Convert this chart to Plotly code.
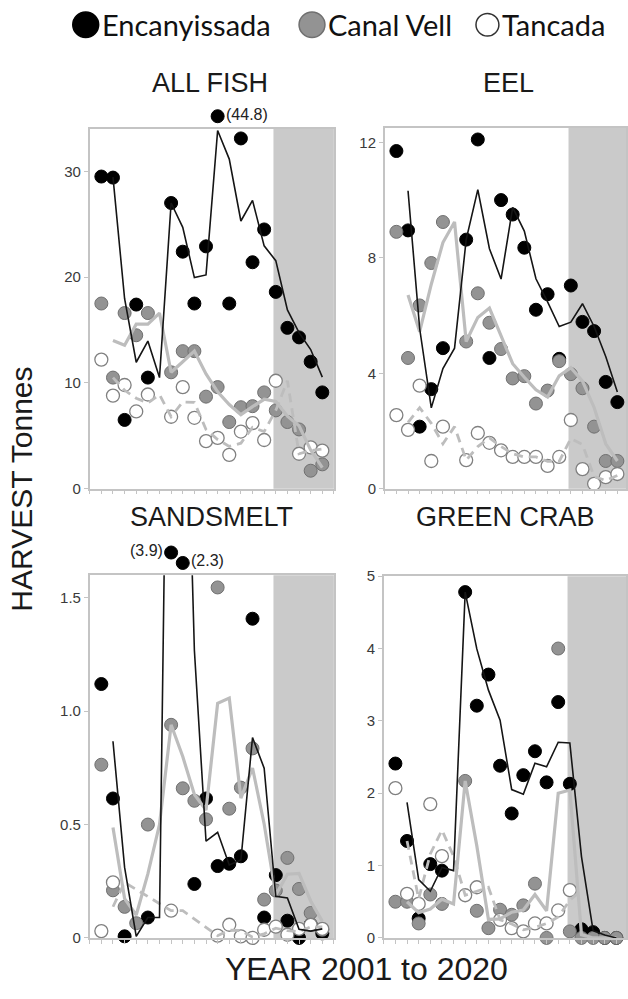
import numpy as np
import pandas as pd
import plotly.graph_objects as go

W, H = 628, 999

YEARS = list(range(2001, 2021))
SITES = ["Encanyissada", "Canal Vell", "Tancada"]
PANEL_TITLES = ["ALL FISH", "EEL", "SANDSMELT", "GREEN CRAB"]

# ---- harvest (tonnes) per year 2001..2020, None = no data ----
ALLFISH_ENC = [29.5, 29.4, 6.5, 17.4, 10.5, None, 27.0, 22.4, 17.5, 22.9,
               44.8, 17.5, 33.1, 21.4, 24.5, 18.6, 15.2, 14.3, 12.0, 9.1]
ALLFISH_CV = [17.5, 10.5, 16.6, 14.5, 16.6, None, 11.0, 13.0, 13.0, 8.7,
              9.6, 6.3, 7.7, 7.8, 9.1, 7.4, 6.3, 5.6, 1.7, 2.3]
ALLFISH_TAN = [12.2, 8.8, 9.8, 7.3, 8.9, None, 6.8, 9.6, 6.7, 4.5,
               4.8, 3.2, 5.4, 6.2, 4.6, 10.2, None, 3.3, 3.9, 3.6]

EEL_ENC = [11.7, 8.95, 2.15, 3.45, 4.87, None, 8.63, 12.1, 4.53, 10.0,
           9.5, 8.35, 6.2, 6.74, 4.5, 7.04, 5.78, 5.46, 3.7, 3.0]
EEL_CV = [8.9, 4.53, 6.35, 7.82, 9.24, None, 5.1, 6.77, 5.75, 4.84,
          3.82, 3.9, 2.95, 3.4, 4.42, 3.97, 3.48, 2.15, 0.96, 0.96]
EEL_TAN = [2.55, 2.04, 3.57, 0.96, 2.15, None, 0.99, 1.93, 1.59, 1.33,
           1.1, 1.1, 1.1, 0.79, 1.1, 2.38, 0.68, 0.17, 0.4, 0.51]

SAND_ENC = [1.12, 0.615, 0.007, None, 0.09, None, 3.9, 2.3, 0.238, 0.615,
            0.317, 0.327, 0.36, 1.408, 0.09, 0.277, 0.076, 0.0, 0.06, 0.02]
SAND_CV = [0.764, 0.21, 0.137, 0.065, 0.5, None, 0.94, 0.66, 0.605, 0.523,
           1.546, 0.57, 0.663, 0.836, 0.169, 0.209, 0.353, 0.216, 0.11, 0.036]
SAND_TAN = [0.03, 0.245, None, None, None, None, 0.12, None, None, None,
            0.01, 0.058, 0.007, 0.0, 0.036, 0.05, 0.014, 0.04, 0.058, 0.04]

CRAB_ENC = [2.41, 1.34, 0.27, 1.02, 0.93, None, 4.78, 3.21, 3.64, 2.38,
            1.72, 2.25, 2.58, 2.15, 3.26, 2.13, 0.12, 0.08, 0.0, 0.0]
CRAB_CV = [0.5, 0.5, 0.2, 0.6, 0.47, None, 2.17, 0.375, 0.135, 0.39,
           0.32, 0.45, 0.75, 0.0, 4.0, 0.09, 0.0, 0.0, 0.0, 0.0]
CRAB_TAN = [2.07, 0.61, 0.47, 1.85, 1.13, None, 0.59, 0.7, None, 0.25,
            0.135, 0.09, 0.2, 0.2, 0.38, 0.66, None, None, None, None]

# y-axis ticks per panel
ALLFISH_TICKS = [0, 10, 20, 30]
EEL_TICKS = [0, 4, 8, 12]
SAND_TICKS = [0, 0.5, 1.0, 1.5]
SAND_TICKTEXT = ["0", "0.5", "1.0", "1.5"]
CRAB_TICKS = [0, 1, 2, 3, 4, 5]

X_TITLE = "YEAR 2001 to 2020"
Y_TITLE = "HARVEST Tonnes"

# ---- styling / layout (not data) ----
SHADE_START = 2015.8
PX_PER_YEAR = 245 / 21.0
panels = [
    dict(data=(ALLFISH_ENC, ALLFISH_CV, ALLFISH_TAN), ymax=34, ticks=ALLFISH_TICKS, ticktext=None,
         box=(90, 335, 122, 488), title_xy=(211, 75)),
    dict(data=(EEL_ENC, EEL_CV, EEL_TAN), ymax=12.5, ticks=EEL_TICKS, ticktext=None,
         box=(386, 628, 121, 488), title_xy=(510, 75)),
    dict(data=(SAND_ENC, SAND_CV, SAND_TAN), ymax=1.6, ticks=SAND_TICKS, ticktext=SAND_TICKTEXT,
         box=(90, 335, 576, 945), title_xy=(212, 517)),
    dict(data=(CRAB_ENC, CRAB_CV, CRAB_TAN), ymax=5, ticks=CRAB_TICKS, ticktext=None,
         box=(385, 628, 577, 945), title_xy=(507, 517)),
]
# display height (axis units) for off-scale points, and label side
OFFSCALE = {0: {2011: (35.2, "right")}, 2: {2007: (1.70, "left"), 2008: (1.654, "right")}}
EXTRA_PX = 40  # extra headroom for the invisible overlay axis that holds off-scale points

BLACK = "#000000"
GRAY_FILL = "#939393"
GRAY_EDGE = "#707070"
WHITE_EDGE = "#808080"
TREND_GRAY = "#bdbdbd"
SHADE = "#cacaca"
AXIS = "#c4c4c4"
MS = 13
FONT = "Liberation Sans, Arial"


def trend(vals):
    s = pd.Series([np.nan if v is None else v for v in vals], dtype=float)
    m = s.rolling(2, min_periods=1).mean()
    m.iloc[0] = np.nan
    return [None if np.isnan(v) else v for v in m]


def px(x, y):
    return x / W, 1 - y / H


fig = go.Figure()
layout = {}
shapes = []
annotations = []
extra_axis = 5

for i, p in enumerate(panels):
    n = "" if i == 0 else str(i + 1)
    xa, ya = "x" + n, "y" + n
    x0, x1, y0, y1 = p["box"]
    xmax = 2000 + (x1 - x0) / PX_PER_YEAR
    enc, cv, tan = p["data"]
    off = OFFSCALE.get(i, {})
    enc_plot = [None if (yr in off) else v for yr, v in zip(YEARS, enc)]

    marker_sets = [
        (enc_plot, dict(color=BLACK, size=MS, line=dict(color=BLACK, width=1))),
        (cv, dict(color=GRAY_FILL, size=MS, line=dict(color=GRAY_EDGE, width=1))),
        (tan, dict(color="white", size=MS, line=dict(color=WHITE_EDGE, width=1.3))),
    ]
    for vals, mk in marker_sets:
        fig.add_trace(go.Scatter(x=YEARS, y=vals, mode="markers", marker=mk,
                                 xaxis=xa, yaxis=ya, showlegend=False, cliponaxis=False,
                                 hoverinfo="x+y"))

    fig.add_trace(go.Scatter(x=YEARS, y=trend(cv), mode="lines", connectgaps=True,
                             line=dict(color=TREND_GRAY, width=3.2), xaxis=xa, yaxis=ya,
                             showlegend=False, hoverinfo="skip"))
    fig.add_trace(go.Scatter(x=YEARS, y=trend(tan), mode="lines", connectgaps=True,
                             line=dict(color=TREND_GRAY, width=2.8, dash="9px,6px"), xaxis=xa, yaxis=ya,
                             showlegend=False, hoverinfo="skip"))
    fig.add_trace(go.Scatter(x=YEARS, y=trend(enc), mode="lines", connectgaps=True,
                             line=dict(color="#151515", width=1.6), xaxis=xa, yaxis=ya,
                             showlegend=False, hoverinfo="skip"))

    layout["xaxis" + n] = dict(domain=[x0 / W, x1 / W], range=[2000, xmax], anchor=ya,
                               tickmode="array", tickvals=list(range(2000, 2022)),
                               showticklabels=False, ticks="outside", ticklen=4, tickwidth=1,
                               tickcolor=AXIS, showline=True, linecolor=AXIS, linewidth=1.5,
                               mirror=True, showgrid=False, zeroline=False, fixedrange=True)
    ya_cfg = dict(domain=[1 - y1 / H, 1 - y0 / H], range=[0, p["ymax"]], anchor=xa,
                  tickmode="array", tickvals=p["ticks"], ticks="outside", ticklen=4,
                  tickwidth=1, tickcolor=AXIS, showline=True, linecolor=AXIS, linewidth=1.5,
                  mirror=True, showgrid=False, zeroline=False, fixedrange=True,
                  tickfont=dict(family=FONT, size=15, color="#3a3a3a"))
    if p["ticktext"]:
        ya_cfg["ticktext"] = p["ticktext"]
    layout["yaxis" + n] = ya_cfg

    # off-scale points drawn on an invisible overlay axis with the same scale but more headroom
    if off:
        k = str(extra_axis)
        extra_axis += 1
        oxa, oya = "x" + k, "y" + k
        ymax_ext = p["ymax"] * (y1 - y0 + EXTRA_PX) / (y1 - y0)
        layout["xaxis" + k] = dict(domain=[x0 / W, x1 / W], range=[2000, xmax], anchor=oya,
                                   visible=False, fixedrange=True)
        layout["yaxis" + k] = dict(domain=[1 - y1 / H, 1 - (y0 - EXTRA_PX) / H],
                                   range=[0, ymax_ext], anchor=oxa, visible=False, fixedrange=True)
        fig.add_trace(go.Scatter(x=list(off.keys()), y=[off[yr][0] for yr in off], mode="markers",
                                 marker=dict(color=BLACK, size=MS, line=dict(color=BLACK, width=1)),
                                 xaxis=oxa, yaxis=oya, showlegend=False, cliponaxis=False))
        for yr, (dy, side) in off.items():
            real = enc[YEARS.index(yr)]
            annotations.append(dict(x=yr, y=dy, xref=oxa, yref=oya, text=f"({real})",
                                    showarrow=False, xanchor="left" if side == "right" else "right",
                                    xshift=6 if side == "right" else -6, yshift=2,
                                    font=dict(family=FONT, size=16, color="#222")))

    shapes.append(dict(type="rect", xref=xa, yref=ya + " domain", x0=SHADE_START, x1=xmax,
                       y0=0, y1=1, fillcolor=SHADE, line=dict(width=0), layer="below"))

    tx, ty = px(*p["title_xy"])
    annotations.append(dict(x=tx, y=ty, xref="paper", yref="paper", text=PANEL_TITLES[i],
                            showarrow=False, xanchor="center", yanchor="middle",
                            font=dict(family=FONT, size=27, color="#1a1a1a")))

# axis titles
ax, ay = px(368, 977)
annotations.append(dict(x=ax, y=ay, xref="paper", yref="paper", text=X_TITLE, showarrow=False,
                        xanchor="center", yanchor="middle",
                        font=dict(family=FONT, size=32, color="#1a1a1a")))
ax, ay = px(22, 488)
annotations.append(dict(x=ax, y=ay, xref="paper", yref="paper", text=Y_TITLE, showarrow=False,
                        xanchor="center", yanchor="middle", textangle=-90,
                        font=dict(family=FONT, size=30, color="#1a1a1a")))

# legend (drawn manually: big circles + text)
LEG_Y = 16
legend_items = [
    (SITES[0], 86, 13, BLACK, BLACK),
    (SITES[1], 313, 13, GRAY_FILL, GRAY_EDGE),
    (SITES[2], 489, 11.5, "white", "#333333"),
]
for name, cx, r, fill, edge in legend_items:
    xa0, ya0 = px(cx - r, LEG_Y + r)
    xa1, ya1 = px(cx + r, LEG_Y - r)
    shapes.append(dict(type="circle", xref="paper", yref="paper", x0=xa0, x1=xa1, y0=ya0, y1=ya1,
                       fillcolor=fill, line=dict(color=edge, width=1.5)))
    tx, ty = px(cx + r + 1, LEG_Y)
    annotations.append(dict(x=tx, y=ty, xref="paper", yref="paper", text=name, showarrow=False,
                            xanchor="left", yanchor="middle",
                            font=dict(family="Lato, Open Sans, sans-serif", size=29, color="#111")))

fig.update_layout(width=W, height=H, margin=dict(l=0, r=0, t=0, b=0),
                  paper_bgcolor="white", plot_bgcolor="rgba(0,0,0,0)",
                  shapes=shapes, annotations=annotations, showlegend=False, **layout)

fig.write_html("out.html", config={"displayModeBar": False},
               post_script="document.body.style.margin='0px';document.body.style.overflow='hidden';")
